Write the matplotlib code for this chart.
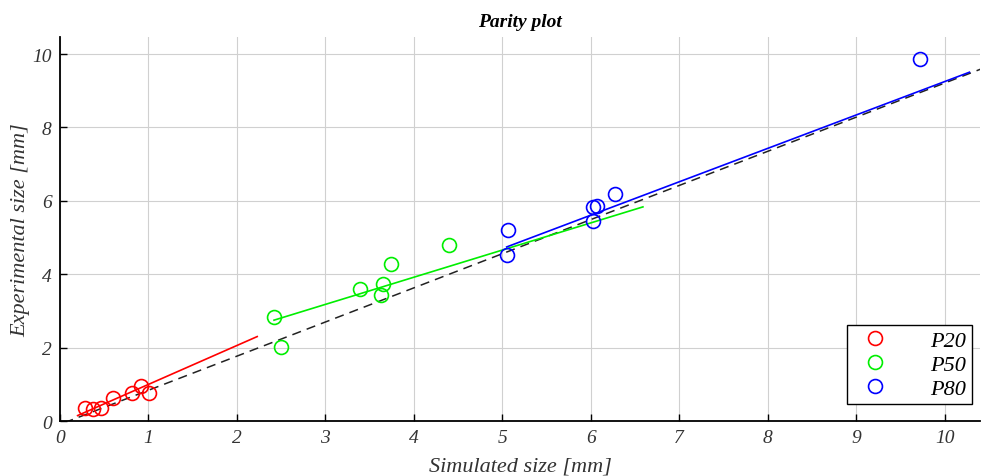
import numpy as np
import matplotlib
matplotlib.use('Agg')
import matplotlib.pyplot as plt

# simulated (x) vs experimental (y) sizes in mm
p20_sim = [0.28, 0.37, 0.47, 0.60, 0.81, 0.92, 1.01]
p20_exp = [0.35, 0.34, 0.36, 0.63, 0.78, 0.96, 0.76]
p50_sim = [2.42, 2.50, 3.39, 3.65, 3.63, 3.74, 4.40]
p50_exp = [2.84, 2.02, 3.60, 3.73, 3.43, 4.28, 4.79]
p80_sim = [5.07, 5.05, 6.02, 6.07, 6.03, 6.27, 9.72]
p80_exp = [5.20, 4.52, 5.83, 5.86, 5.44, 6.18, 9.87]

# fitted lines: (x start, x end, slope, intercept)
p20_fit = (0.20, 2.23, 1.06, -0.06)
p50_fit = (2.42, 6.59, 0.74, 0.96)
p80_fit = (5.05, 10.28, 0.91, 0.15)
all_fit = (0.05, 10.45, 0.93, -0.09)

series = [('P20', p20_sim, p20_exp, p20_fit, '#ff0000'),
          ('P50', p50_sim, p50_exp, p50_fit, '#00ee00'),
          ('P80', p80_sim, p80_exp, p80_fit, '#0000ff')]

plt.rcParams['font.family'] = ['Liberation Serif', 'DejaVu Serif']

fig = plt.figure(figsize=(9.82, 4.77), dpi=100)
ax = fig.add_axes([0.061, 0.115, 0.937, 0.805])

xa = np.array([all_fit[0], all_fit[1]])
ax.plot(xa, all_fit[2] * xa + all_fit[3], '--', color='#222222', lw=1.1,
        dashes=(6, 4), zorder=2)

for name, xs, ys, fit, col in series:
    ax.plot(xs, ys, 'o', mfc='none', mec=col, mew=1.2, ms=10, label=name, zorder=3)
    xf = np.array([fit[0], fit[1]])
    ax.plot(xf, fit[2] * xf + fit[3], '-', color=col, lw=1.2, zorder=2)

ax.set_xlim(0, 10.4)
ax.set_ylim(0, 10.46)
ax.set_xticks(range(0, 11))
ax.set_yticks(range(0, 11, 2))
ax.grid(True, color='#d0d0d0', lw=0.8)
ax.set_axisbelow(True)
for s in ['top', 'right']:
    ax.spines[s].set_visible(False)
for s in ['left', 'bottom']:
    ax.spines[s].set_linewidth(1.3)
ax.tick_params(direction='in', length=5, width=1, labelsize=14, pad=6)
for lab in ax.get_xticklabels() + ax.get_yticklabels():
    lab.set_fontstyle('italic')
    lab.set_color('#333333')

ax.set_xlabel('Simulated size [mm]', fontsize=16, style='italic', color='#333333', labelpad=7)
ax.set_ylabel('Experimental size [mm]', fontsize=16, style='italic', color='#333333', labelpad=1)
ax.set_title('Parity plot', fontsize=14, style='italic', fontweight='bold', pad=8)

leg = ax.legend(loc='lower right', bbox_to_anchor=(0.991, 0.044), borderaxespad=0,
                frameon=True, fancybox=False, edgecolor='black', handletextpad=1.5,
                borderpad=0.25, labelspacing=0.15, prop={'style': 'italic', 'size': 16})
leg.get_frame().set_linewidth(1.0)
leg.get_frame().set_alpha(1)

fig.savefig('out.png', dpi=100)
